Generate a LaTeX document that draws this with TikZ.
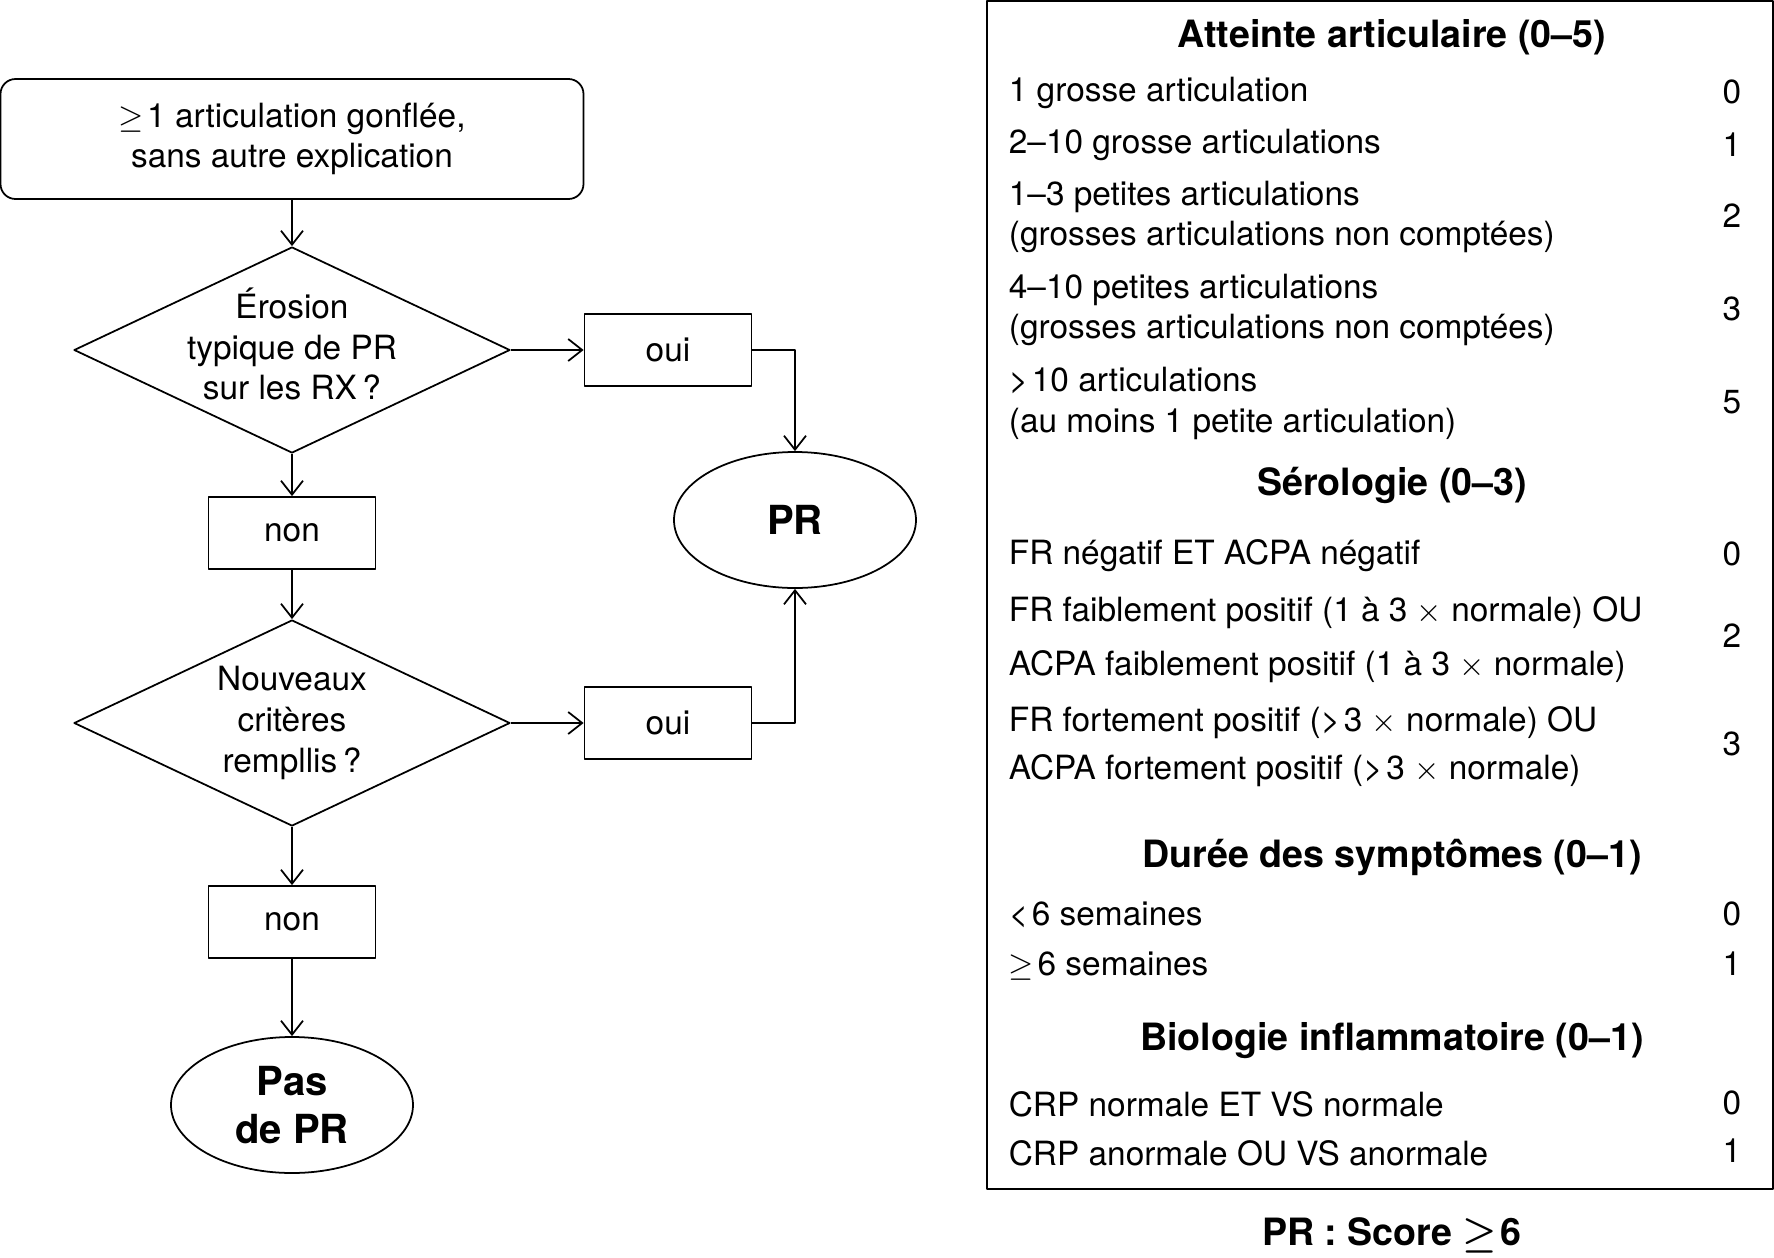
\documentclass[tikz,border=0pt]{standalone}
\usepackage{fontspec}
\setmainfont{TeX Gyre Heros}
\usetikzlibrary{shapes.geometric,arrows.meta}

\begin{document}
\begin{tikzpicture}[font=\fontsize{9.5}{11.6}\selectfont, line join=round, line width=0.5pt,
  >={Straight Barb[length=1.4mm,width=2.2mm]},
  box/.style={draw, rectangle, minimum width=1.67cm, minimum height=0.72cm, inner sep=0pt},
  decision/.style={draw, diamond, align=center, inner sep=-2pt, shape aspect=2.1, minimum width=4.36cm, minimum height=2.06cm},
  term/.style={draw, ellipse, align=center, inner sep=0pt, minimum width=2.42cm, minimum height=1.36cm, font=\fontsize{11.4}{13.8}\selectfont\bfseries},
  head/.style={inner sep=0pt, font=\fontsize{10.7}{12.8}\selectfont\bfseries},
  row/.style={anchor=west, align=left, inner sep=0pt},
  pts/.style={inner sep=0pt}]
\useasboundingbox (0,0) rectangle (17.74,-12.58);

% flowchart
\node[draw, rounded corners=0.15cm, minimum width=5.83cm, minimum height=1.20cm, align=center] (start) at (2.92,-1.39) {$\geq$\kern1pt 1 articulation gonflée,\\sans autre explication};
\node[decision] (ero) at (2.92,-3.50) {\raisebox{2pt}{\begin{tabular}{@{}c@{}}Érosion\\typique de PR\\sur les RX\,?\end{tabular}}};
\node[box] (non1) at (2.92,-5.33) {non};
\node[decision] (crit) at (2.92,-7.23) {Nouveaux\\critères\\rempllis\,?};
\node[box] (non2) at (2.92,-9.22) {non};
\node[term] (paspr) at (2.92,-11.05) {Pas\\de PR};
\node[box] (oui1) at (6.68,-3.50) {oui};
\node[box] (oui2) at (6.68,-7.23) {oui};
\node[term] (pr) at (7.95,-5.20) {PR};

\draw[->] (start) -- (ero);
\draw[->] (ero) -- (oui1);
\draw[->] (ero) -- (non1);
\draw[->] (non1) -- (crit);
\draw[->] (crit) -- (oui2);
\draw[->] (crit) -- (non2);
\draw[->] (non2) -- (paspr);
\draw[->] (oui1) -| (pr);
\draw[->] (oui2) -| (pr);

% score table
\node[draw, minimum width=7.86cm, minimum height=11.88cm, inner sep=0pt] (tab) at (13.80,-5.95) {};

\node[head] (h1) at (13.92,-0.37) {Atteinte articulaire (0–5)};
\node[row] (a1) at (10.08,-0.93) {1 grosse articulation};
\node[pts] (pa1) at (17.32,-0.92) {0};
\node[row] (a2) at (10.08,-1.45) {2–10 grosse articulations};
\node[pts] (pa2) at (17.32,-1.45) {1};
\node[row] (a3) at (10.08,-2.17) {1–3 petites articulations\\(grosses articulations non comptées)};
\node[pts] (pa3) at (17.32,-2.16) {2};
\node[row] (a4) at (10.08,-3.10) {4–10 petites articulations\\(grosses articulations non comptées)};
\node[pts] (pa4) at (17.32,-3.09) {3};
\node[row] (a5) at (10.08,-4.035) {>\kern1pt 10 articulations\\(au moins 1 petite articulation)};
\node[pts] (pa5) at (17.32,-4.02) {5};

\node[head] (h2) at (13.92,-4.85) {Sérologie (0–3)};
\node[row] (s1) at (10.08,-5.56) {FR négatif ET ACPA négatif};
\node[pts] (ps1) at (17.32,-5.54) {0};
\node[row] (s2) at (10.08,-6.13) {FR faiblement positif (1 à 3 $\times$ normale) OU};
\node[row] (s3) at (10.08,-6.67) {ACPA faiblement positif (1 à 3 $\times$ normale)};
\node[pts] (ps2) at (17.32,-6.36) {2};
\node[row] (s4) at (10.08,-7.23) {FR fortement positif (>\kern1pt 3 $\times$ normale) OU};
\node[row] (s5) at (10.08,-7.71) {ACPA fortement positif (>\kern1pt 3 $\times$ normale)};
\node[pts] (ps3) at (17.32,-7.44) {3};

\node[head] (h3) at (13.92,-8.57) {Durée des symptômes (0–1)};
\node[row] (d1) at (10.08,-9.15) {<\kern1pt 6 semaines};
\node[pts] (pd1) at (17.32,-9.14) {0};
\node[row] (d2) at (10.08,-9.66) {$\geq$\kern1pt 6 semaines};
\node[pts] (pd2) at (17.32,-9.64) {1};

\node[head] (h4) at (13.92,-10.41) {Biologie inflammatoire (0–1)};
\node[row] (b1) at (10.08,-11.04) {CRP normale ET VS normale};
\node[pts] (pb1) at (17.32,-11.03) {0};
\node[row] (b2) at (10.08,-11.53) {CRP anormale OU VS anormale};
\node[pts] (pb2) at (17.32,-11.51) {1};

\node[head] (score) at (13.92,-12.35) {PR : Score {\boldmath$\geq$}\kern1pt 6};
\end{tikzpicture}
\end{document}
